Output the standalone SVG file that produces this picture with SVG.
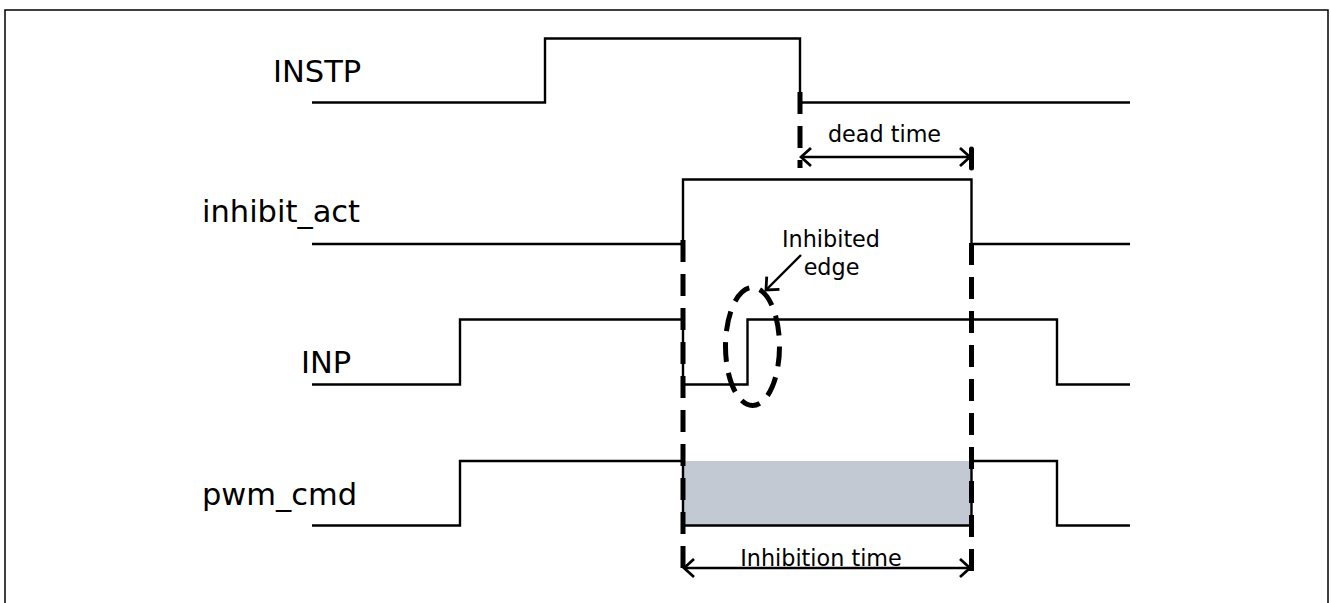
<svg xmlns="http://www.w3.org/2000/svg" width="1331" height="603" viewBox="0 0 1331 603">
  <defs>
    <style>
      .sig { fill: none; stroke: #000; stroke-width: 2.4; stroke-linejoin: miter; }
      .lbl { font-family: "DejaVu Sans", Verdana, sans-serif; font-size: 30.5px; fill: #000; }
      .ann { font-family: "DejaVu Sans", Verdana, sans-serif; font-size: 22.3px; fill: #000; text-anchor: middle; }
      .dash { fill: none; stroke: #000; stroke-width: 5; stroke-dasharray: 22 12; }
      .bar { fill: none; stroke: #000; stroke-width: 5; stroke-linecap: round; }
      .dim { fill: none; stroke: #000; stroke-width: 2.4; marker-start: url(#chev); marker-end: url(#chev); }
      .ptr { fill: none; stroke: #000; stroke-width: 2.4; marker-end: url(#chev); }
    </style>
    <marker id="chev" viewBox="-12 -11 14 22" refX="0" refY="0" markerUnits="userSpaceOnUse" markerWidth="14" markerHeight="22" orient="auto-start-reverse">
      <path d="M-10,-9 L0,0 L-10,9" fill="none" stroke="#000" stroke-width="2.8"/>
    </marker>
  </defs>
  <rect width="1331" height="603" fill="#fff"/>
  <path d="M5,603 V10 H1328 V603" fill="none" stroke="#000" stroke-width="1.5"/>

  <g id="instp">
    <text class="lbl" x="273" y="82">INSTP</text>
    <path class="sig" d="M312,102.5 H545 V38.5 H800 V102.5 H1130"/>
  </g>

  <g id="inhibit_act">
    <text class="lbl" x="202" y="222">inhibit_act</text>
    <path class="sig" d="M312,244 H683 V179.5 H971.5 V244 H1130"/>
  </g>

  <g id="inp">
    <text class="lbl" x="301" y="373">INP</text>
    <path class="sig" d="M312,384.5 H460 V319.5 H683 V384.5 H747.5 V319.5 H1057 V384.5 H1130"/>
  </g>

  <g id="pwm_cmd">
    <text class="lbl" x="202" y="505">pwm_cmd</text>
    <rect x="683" y="461" width="288.5" height="64.5" fill="#c3c9d3"/>
    <path class="sig" d="M312,525.5 H460 V461 H683 V525.5 H971.5 V461 H1057 V525.5 H1130"/>
  </g>

  <g id="inhibited_edge">
    <ellipse cx="752.5" cy="346.5" rx="27" ry="59" fill="none" stroke="#000" stroke-width="5" stroke-dasharray="20 11"/>
    <text class="ann" x="831" y="247">Inhibited</text>
    <text class="ann" x="831.5" y="275">edge</text>
  </g>

  <g id="connectors">
    <line class="dash" x1="800" y1="92" x2="800" y2="168"/>
    <line class="dash" x1="683" y1="240" x2="683" y2="580"/>
    <line class="dash" x1="971.5" y1="243" x2="971.5" y2="580"/>
    <line class="bar" x1="971.5" y1="149" x2="971.5" y2="168"/>
    <line class="dim" x1="801" y1="157" x2="970" y2="157"/>
    <text class="ann" x="884.5" y="142">dead time</text>
    <line class="dim" x1="684" y1="568" x2="970" y2="568"/>
    <text class="ann" x="821" y="566">Inhibition time</text>
    <line class="ptr" x1="801" y1="255" x2="766" y2="290"/>
  </g>
</svg>
